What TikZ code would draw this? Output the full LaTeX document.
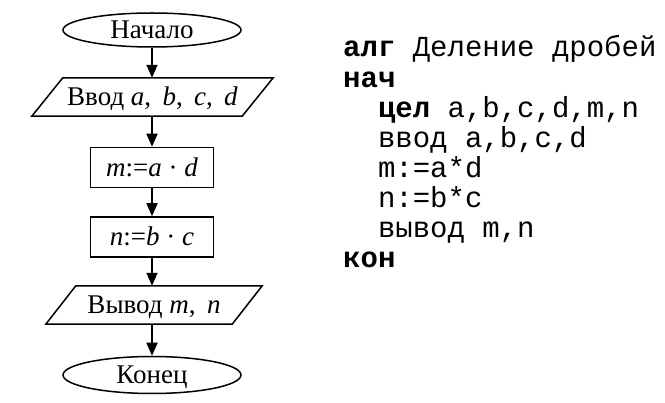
\documentclass[tikz,border=0pt]{standalone}
\usepackage{fontspec}
\setmainfont{Liberation Serif}
\newfontfamily\codefont{Liberation Mono}
\usetikzlibrary{shapes.geometric,arrows.meta}
\begin{document}
\begin{tikzpicture}[x=1pt,y=-1pt,
  every node/.style={font=\fontsize{27}{32}\selectfont, text height=17.5pt, text depth=0pt, inner sep=0pt},
  term/.style={ellipse, draw, line width=1.5pt, minimum width=178pt, minimum height=34pt},
  procbox/.style={rectangle, draw, line width=1.5pt, minimum width=123pt, minimum height=40pt},
  iobox/.style={rectangle, minimum height=38pt},
  ioline/.style={line width=1.5pt, line join=miter},
  flow/.style={line width=1.6pt, -{Triangle[length=13pt,width=11pt]}},
  codeline/.style={anchor=base west, font=\codefont\fontsize{29}{30}\selectfont}
]
\useasboundingbox (0,0) rectangle (665,403);
% flowchart
\node[term] (start) at (152,30) {Начало};
\node[iobox, minimum width=179pt] (in) at (152.5,97) {Ввод \textit{a},\hspace{0.42em}\textit{b},\hspace{0.42em}\textit{c},\hspace{0.42em}\textit{d}};
\draw[ioline] (in.north west) -- ([xshift=31pt]in.north east) -- (in.south east) -- ([xshift=-31pt]in.south west) -- cycle;
\node[procbox] (m) at (152,167.5) {\textit{m}:=\textit{a} · \textit{d}};
\node[procbox] (n) at (152,237) {\textit{n}:=\textit{b} · \textit{c}};
\node[iobox, minimum width=156pt] (out) at (154,305) {Вывод \textit{m},\hspace{0.42em}\textit{n}};
\draw[ioline] (out.north west) -- ([xshift=30pt]out.north east) -- (out.south east) -- ([xshift=-30pt]out.south west) -- cycle;
\node[term, minimum height=37pt] (end) at (152,375) {Конец};
\draw[flow] (start.south) -- (start.south |- in.north);
\draw[flow] (start.south |- in.south) -- (start.south |- m.north);
\draw[flow] (m.south) -- (n.north);
\draw[flow] (n.south) -- (n.south |- out.north);
\draw[flow] (n.south |- out.south) -- (end.north);
% program text
\node[codeline] (l1) at (343,57) {\textbf{алг} Деление дробей};
\node[codeline] (l2) at (343,87.1) {\textbf{нач}};
\node[codeline] (l3) at (343,117.2) {\phantom{xx}\textbf{цел} a,b,c,d,m,n};
\node[codeline] (l4) at (343,147.3) {\phantom{xx}ввод a,b,c,d};
\node[codeline] (l5) at (343,177.4) {\phantom{xx}m:=a*d};
\node[codeline] (l6) at (343,207.5) {\phantom{xx}n:=b*c};
\node[codeline] (l7) at (343,237.6) {\phantom{xx}вывод m,n};
\node[codeline] (l8) at (343,267.7) {\textbf{кон}};
\end{tikzpicture}
\end{document}
